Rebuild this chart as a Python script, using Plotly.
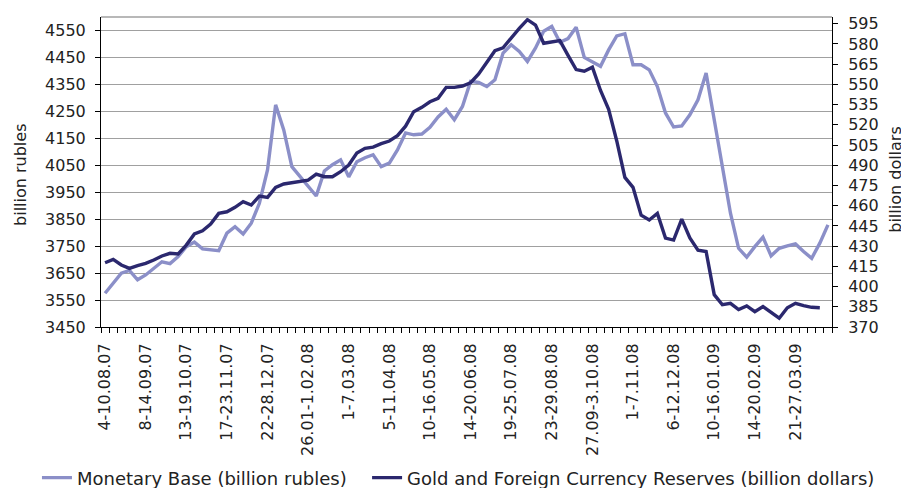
import datetime as dt
import plotly.graph_objects as go

# ---- categories: weekly periods starting 4 Aug 2007 ----
start_date = dt.date(2007, 8, 4)
n_weeks = 90

def week_label(d1):
    d2 = d1 + dt.timedelta(days=6)
    yy = f"{d2.year % 100:02d}"
    if d1.month == d2.month:
        return f"{d1.day}-{d2.day}.{d2.month:02d}.{yy}"
    return f"{d1.day}.{d1.month:02d}-{d2.day}.{d2.month:02d}.{yy}"

weeks = [week_label(start_date + dt.timedelta(days=7 * k)) for k in range(n_weeks)]
label_every = 5
tick_labels = weeks[::label_every]

# ---- series ----
monetary_base = [
    3575, 3612, 3650, 3660, 3625, 3643, 3668, 3692, 3685, 3711,
    3748, 3765, 3740, 3738, 3733, 3798, 3822, 3795, 3835, 3909,
    4033, 4274, 4181, 4045, 4008, 3971, 3936, 4029, 4052, 4070,
    4007, 4063, 4078, 4089, 4045, 4058, 4107, 4170, 4163, 4166,
    4191, 4229, 4258, 4219, 4268, 4361, 4357, 4342, 4367, 4466,
    4497, 4472, 4435, 4485, 4547, 4565, 4506, 4520, 4562, 4450,
    4435, 4417, 4478, 4530, 4538, 4423, 4423, 4404, 4342, 4244,
    4192, 4196, 4237, 4293, 4392, 4219, 4045, 3872, 3742, 3709,
    3748, 3783, 3714, 3742, 3751, 3758, 3730, 3705, 3761, 3829,
]
reserves = [
    417.7, 420.2, 416.0, 413.5, 415.5, 417.2, 419.7, 422.7, 424.7, 424.2,
    430.8, 439.0, 441.4, 446.4, 454.3, 455.5, 458.8, 463.0, 460.5, 467.2,
    466.2, 473.6, 476.1, 477.0, 478.5, 479.0, 483.5, 481.5, 481.5, 485.2,
    490.2, 499.0, 502.6, 503.5, 506.0, 508.0, 512.0, 519.0, 529.7, 533.0,
    537.1, 539.7, 547.8, 547.8, 548.8, 551.2, 557.7, 566.1, 575.0, 577.2,
    584.9, 591.6, 598.0, 594.0, 580.5, 581.5, 582.5, 571.5, 561.0, 559.8,
    562.8, 545.5, 531.5, 508.0, 481.0, 473.6, 453.0, 449.4, 454.3, 436.0,
    434.5, 450.0, 436.0, 427.0, 426.0, 394.0, 386.5, 387.6, 383.0, 385.6,
    381.4, 385.1, 381.0, 376.5, 384.3, 387.6, 385.8, 384.6, 384.3, None,
]

x_pos = list(range(n_weeks))
light = "rgb(139,143,200)"
dark = "rgb(43,40,110)"
font_family = "'DejaVu Sans', sans-serif"
text_color = "#222"

fig = go.Figure()
fig.add_trace(go.Scatter(x=x_pos, y=monetary_base, mode="lines",
                         name="Monetary Base (billion rubles)",
                         line=dict(color=light, width=3.4), yaxis="y",
                         legend="legend"))
fig.add_trace(go.Scatter(x=x_pos, y=reserves, mode="lines",
                         name="Gold and Foreign Currency Reserves (billion dollars)",
                         line=dict(color=dark, width=3.4), yaxis="y2",
                         legend="legend2"))

legend_style = dict(orientation="h", xanchor="left", y=-0.487, yanchor="middle",
                    font=dict(size=18), bgcolor="rgba(0,0,0,0)")

# the page body adds an 8px offset, so the figure is 8px smaller on each side
fig.update_layout(
    width=901, height=480,
    margin=dict(l=93, r=77, t=9, b=161, autoexpand=False),
    paper_bgcolor="white", plot_bgcolor="white",
    font=dict(family=font_family, size=16, color=text_color),
    showlegend=True,
    legend=dict(x=-0.0876, **legend_style),
    legend2=dict(x=0.364, **legend_style),
    xaxis=dict(
        range=[-0.5, n_weeks - 0.5],
        tickmode="array",
        tickvals=x_pos[::label_every],
        ticktext=tick_labels,
        tickangle=-90,
        ticks="",
        ticklabelstandoff=9,
        showgrid=False, zeroline=False,
        showline=True, linecolor="black", linewidth=1,
        tickfont=dict(size=16),
        minor=dict(tickmode="array",
                   tickvals=[k - 0.5 for k in range(n_weeks + 1)],
                   ticks="outside", ticklen=5, tickcolor="black", showgrid=False),
    ),
    yaxis=dict(
        range=[3450, 4600], tickmode="linear", tick0=3450, dtick=100,
        ticks="outside", ticklen=5, tickcolor="black", ticklabelstandoff=6,
        showgrid=True, gridcolor="#a0a0a0", gridwidth=1.3,
        zeroline=False, showline=True, linecolor="black", linewidth=1,
        tickfont=dict(size=16),
    ),
    yaxis2=dict(
        range=[370, 600], tickmode="linear", tick0=370, dtick=15,
        overlaying="y", side="right",
        ticks="outside", ticklen=5, tickcolor="black", ticklabelstandoff=7,
        showgrid=False, zeroline=False, showline=True, linecolor="black", linewidth=1,
        tickfont=dict(size=16),
    ),
    annotations=[
        dict(text="billion rubles", xref="paper", yref="paper", x=-0.111, y=0.49,
             xanchor="center", yanchor="middle", textangle=-90, showarrow=False,
             font=dict(size=16)),
        dict(text="billion dollars", xref="paper", yref="paper", x=1.087, y=0.477,
             xanchor="center", yanchor="middle", textangle=-90, showarrow=False,
             font=dict(size=16)),
    ],
    shapes=[dict(type="line", xref="paper", yref="paper", x0=0, x1=1, y0=1, y1=1,
                 line=dict(color="#a0a0a0", width=1.3))],
)

fig.write_html("out.html")
